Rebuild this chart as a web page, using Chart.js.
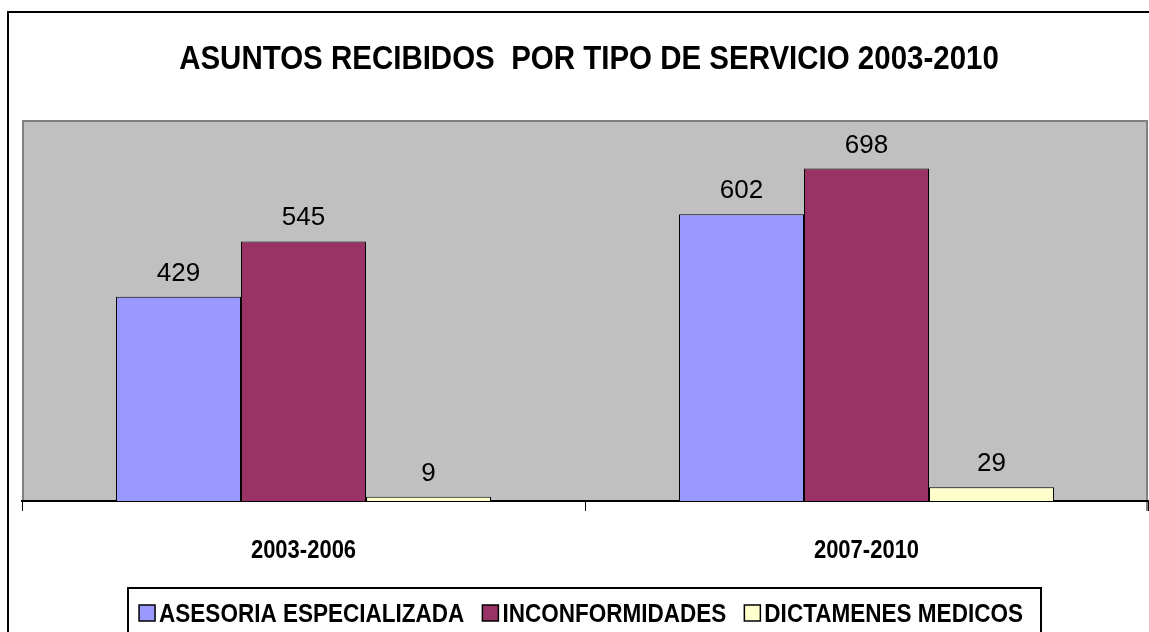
<!DOCTYPE html>
<html>
<head>
<meta charset="utf-8">
<script src="https://cdn.jsdelivr.net/npm/chart.js@4.4.1/dist/chart.umd.min.js"></script>
<style>
    html, body { margin: 0; padding: 0; background: #fff; }
    #wrap { width: 1149px; height: 632px; }
</style>
</head>
<body>
<div id="wrap"><canvas id="chart" width="1149" height="632"></canvas></div>
<script>
const chartTitle = 'ASUNTOS RECIBIDOS  POR TIPO DE SERVICIO 2003-2010';
const periods = ['2003-2006', '2007-2010'];
const seriesNames = ['ASESORIA ESPECIALIZADA', 'INCONFORMIDADES', 'DICTAMENES MEDICOS'];
const asesoria = [429, 602];
const inconformidades = [545, 698];
const dictamenes = [9, 29];
const seriesColors = ['#9999FF', '#993366', '#FFFFCC'];

const FONT = '"Liberation Sans", Arial, sans-serif';
const NARROW = 0.88;

// draw text squeezed horizontally (the original uses a condensed look)
function narrowText(ctx, text, x, y, font, align) {
    ctx.save();
    ctx.font = font;
    ctx.textBaseline = 'alphabetic';
    ctx.textAlign = 'left';
    const w = ctx.measureText(text).width * NARROW;
    let left = x;
    if (align === 'center') left = x - w / 2;
    ctx.translate(left, y);
    ctx.scale(NARROW, 1);
    ctx.fillStyle = '#000';
    ctx.fillText(text, 0, 0);
    ctx.restore();
    return w;
}

const decorPlugin = {
    id: 'decor',
    beforeDraw(chart) {
        const ctx = chart.ctx;
        const a = chart.chartArea;
        ctx.save();
        // outer frame
        ctx.strokeStyle = '#000';
        ctx.lineWidth = 2;
        ctx.strokeRect(8, 12, chart.width + 20, chart.height + 20);
        // plot background
        ctx.fillStyle = '#C0C0C0';
        ctx.fillRect(a.left, a.top, a.right - a.left, a.bottom - a.top);
        ctx.strokeStyle = '#808080';
        ctx.lineWidth = 2;
        ctx.beginPath();
        ctx.moveTo(a.left + 1, a.bottom);
        ctx.lineTo(a.left + 1, a.top + 1);
        ctx.lineTo(a.right - 1, a.top + 1);
        ctx.lineTo(a.right - 1, a.bottom + 10);
        ctx.stroke();
        ctx.restore();

        // title
        narrowText(ctx, chartTitle, 589, 69, 'bold 33.5px ' + FONT, 'center');
    },
    afterDraw(chart) {
        const ctx = chart.ctx;
        const xScale = chart.scales.x;

        // category labels
        periods.forEach((p, i) => {
            narrowText(ctx, p, xScale.getPixelForValue(i), 558, 'bold 25px ' + FONT, 'center');
        });

        // value labels above bars
        ctx.save();
        ctx.font = '26px ' + FONT;
        ctx.textAlign = 'center';
        ctx.textBaseline = 'alphabetic';
        ctx.fillStyle = '#000';
        chart.data.datasets.forEach((ds, di) => {
            chart.getDatasetMeta(di).data.forEach((bar, i) => {
                ctx.fillText(String(ds.data[i]), bar.x, bar.y - 16);
            });
        });
        ctx.restore();

        // legend box
        ctx.save();
        ctx.strokeStyle = '#000';
        ctx.lineWidth = 2;
        ctx.strokeRect(128, 588, 913, 60);
        ctx.restore();

        const legendFont = 'bold 25.6px ' + FONT;
        ctx.save();
        ctx.font = legendFont;
        const widths = seriesNames.map(n => ctx.measureText(n).width * NARROW);
        ctx.restore();
        const sw = 16, gapText = 4, gapItem = 18;
        const total = widths.reduce((s, w) => s + sw + gapText + w, 0) + gapItem * (seriesNames.length - 1);
        let x = 581 - total / 2;
        seriesNames.forEach((name, i) => {
            ctx.save();
            ctx.fillStyle = seriesColors[i];
            ctx.fillRect(x, 605, sw, sw);
            ctx.strokeStyle = '#000';
            ctx.lineWidth = 1.5;
            ctx.strokeRect(x, 605, sw, sw);
            ctx.restore();
            narrowText(ctx, name, x + sw + gapText, 622, legendFont, 'left');
            x += sw + gapText + widths[i] + gapItem;
        });
    }
};

new Chart(document.getElementById('chart'), {
    type: 'bar',
    data: {
        labels: periods,
        datasets: [
            { label: seriesNames[0], data: asesoria, backgroundColor: seriesColors[0] },
            { label: seriesNames[1], data: inconformidades, backgroundColor: seriesColors[1] },
            { label: seriesNames[2], data: dictamenes, backgroundColor: seriesColors[2] }
        ]
    },
    options: {
        responsive: false,
        animation: false,
        devicePixelRatio: 1,
        layout: { padding: { left: 22, top: 120, right: 1, bottom: 0 } },
        datasets: {
            bar: {
                categoryPercentage: 0.666,
                barPercentage: 1,
                borderColor: '#000',
                borderWidth: 1
            }
        },
        plugins: {
            legend: { display: false },
            title: { display: false },
            tooltip: { enabled: false }
        },
        scales: {
            x: {
                offset: true,
                grid: {
                    offset: true,
                    drawOnChartArea: false,
                    drawTicks: true,
                    tickLength: 10,
                    color: '#000',
                    lineWidth: 1
                },
                border: { display: true, color: '#000', width: 2 },
                ticks: { display: false },
                afterFit(scale) { scale.height = 131; }
            },
            y: {
                display: false,
                min: 0,
                max: 800
            }
        }
    },
    plugins: [decorPlugin]
});
</script>
</body>
</html>
